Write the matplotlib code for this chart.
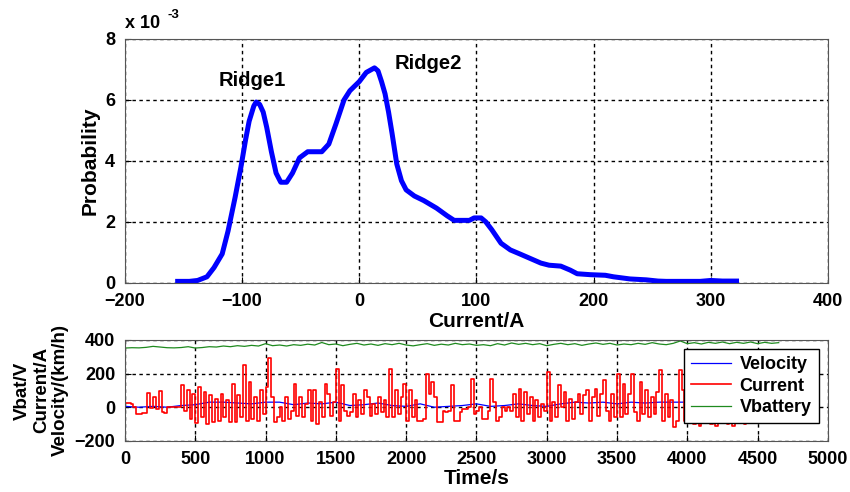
import matplotlib
matplotlib.use('Agg')
import matplotlib.pyplot as plt
import numpy as np

plt.rcParams['font.family'] = ['Liberation Sans', 'DejaVu Sans']
plt.rcParams['font.weight'] = 'bold'

# Distribution du courant (probabilité en 1e-3)
current_a = [-155, -145, -138, -130, -124, -117, -112, -106, -101, -97,
             -94, -90, -88, -85, -82, -79, -75, -71, -67, -62,
             -57, -51, -44, -38, -32, -26, -20, -13, -8, 0,
             6, 13, 16, 19, 22, 25, 28, 32, 36, 40,
             47, 55, 66, 75, 81, 90, 94, 98, 104, 108,
             113, 121, 129, 137, 146, 155, 162, 172, 180, 186,
             197, 210, 217, 231, 245, 255, 262, 291, 300, 310, 322]
prob_e3 = [0.05, 0.05, 0.08, 0.2, 0.5, 0.95, 1.7, 2.8, 3.8, 4.7,
           5.3, 5.8, 5.93, 5.85, 5.6, 5.1, 4.3, 3.6, 3.3, 3.3,
           3.6, 4.1, 4.3, 4.3, 4.3, 4.55, 5.2, 6.0, 6.3, 6.6,
           6.9, 7.05, 6.95, 6.6, 6.2, 5.6, 4.9, 3.9, 3.35, 3.05,
           2.85, 2.7, 2.45, 2.2, 2.05, 2.05, 2.05, 2.13, 2.13, 2.0,
           1.75, 1.3, 1.08, 0.95, 0.8, 0.65, 0.58, 0.55, 0.42, 0.3,
           0.27, 0.25, 0.2, 0.13, 0.1, 0.06, 0.05, 0.05, 0.08, 0.06, 0.06]

# Courant mesuré, un point toutes les 20 s
current_t = np.arange(0, 4680, 20)
current = [25, 25, 20, 0, -40, -40, -35, -35, 85, -5,
           60, -10, 95, -30, -35, 0, 0, 0, 0, 0,
           135, -20, 100, -70, 80, -95, 120, -60, 90, -100,
           70, -90, 50, -80, 80, -60, 40, -90, 140, -90,
           70, -60, 250, -80, 150, -70, 60, -80, 100, -40,
           120, 295, 60, -90, -60, 0, -80, 60, -70, -20,
           140, -50, 60, -60, 20, 100, -80, 100, -100, 30,
           -60, 140, 80, -50, 30, 230, -80, 130, -20, -50,
           -30, 80, -60, 40, -40, 100, 60, -50, 20, -40,
           60, -30, 40, -60, 230, -60, 100, -40, 60, 140,
           -80, 100, -60, 40, -80, -80, -70, 200, 80, 150,
           60, -90, -90, -25, -30, -20, 130, -80, -80, -30,
           -10, -10, 0, 170, -40, -20, 0, -70, -70, -20,
           170, 30, -80, -60, 0, -20, 0, -20, 80, -60,
           110, -80, 90, -40, 60, -80, 40, -60, 20, -20,
           210, -80, 30, -60, 130, 0, 90, -80, 50, -70,
           30, 80, -40, 70, 100, -80, 60, 110, -50, 80,
           160, -20, -80, 80, -60, 200, -60, 140, -40, 80,
           200, -30, -80, 150, -40, 100, -60, 60, -40, 90,
           220, -80, 80, -60, 40, -120, -80, 220, 100, -80,
           130, -50, -100, -20, -110, -40, -90, -30, -100, -50,
           -110, -40, -90, -30, -100, -60, -110, -40, -90, -50,
           -100, -60, -40, -20, -70, -30, -70, -50, -80, -60,
           -20, -70, -50, -70]

# Vitesse, un point toutes les 100 s
velocity_t = np.arange(0, 4700, 100)
velocity = [5, 0, 5, 0, 10, 15, 30, 30, 25, 20,
            30, 30, 15, 25, 20, 30, 10, 15, 25, 10,
            5, 20, 0, 5, 10, 20, 5, 10, 20, 10,
            5, 20, 30, 25, 30, 20, 30, 25, 30, 30,
            30, 25, 20, 15, 20, 10, 0]

# Tension batterie, un point toutes les 50 s
vbat_t = np.arange(0, 4700, 50)
vbat = [352, 354, 353, 356, 362, 358, 354, 353, 355, 360,
        352, 355, 360, 358, 364, 360, 366, 362, 368, 364,
        378, 366, 370, 364, 372, 368, 375, 370, 385, 372,
        376, 366, 374, 380, 370, 376, 368, 378, 372, 380,
        370, 365, 372, 378, 368, 375, 370, 380, 372, 376,
        368, 372, 366, 378, 370, 382, 374, 380, 372, 378,
        366, 374, 380, 372, 378, 368, 376, 382, 374, 380,
        370, 376, 372, 380, 374, 384, 376, 372, 380, 394,
        378, 384, 376, 386, 380, 388, 378, 386, 380, 388,
        378, 386, 380, 384]

fig = plt.figure(figsize=(8.5, 4.92), dpi=100)
ax1 = fig.add_axes([0.147, 0.425, 0.827, 0.496])
ax2 = fig.add_axes([0.147, 0.104, 0.827, 0.205])

for ax in (ax1, ax2):
    ax.grid(True, color='black', linestyle=(0, (2.5, 2.5)), linewidth=1.0)
    ax.tick_params(direction='in', labelsize=13, length=4, pad=7)
    for s in ax.spines.values():
        s.set_color('#555555')

# Graphe du haut : densité
ax1.plot(current_a, prob_e3, color='blue', linewidth=3.6)
ax1.set_xlim(-200, 400)
ax1.set_ylim(0, 8)
ax1.set_xticks(range(-200, 401, 100))
ax1.set_yticks(range(0, 9, 2))
ax1.set_xlabel('Current/A', fontsize=15, fontweight='bold', labelpad=2)
ax1.set_ylabel('Probability', fontsize=15, fontweight='bold', labelpad=4)
ax1.text(-91, 6.65, 'Ridge1', fontsize=14.5, fontweight='bold', ha='center', va='center')
ax1.text(59, 7.18, 'Ridge2', fontsize=14.5, fontweight='bold', ha='center', va='center')
ax1.text(0.0, 1.03, 'x 10', transform=ax1.transAxes, fontsize=13, fontweight='bold',
         ha='left', va='bottom')
ax1.text(0.061, 1.075, '-3', transform=ax1.transAxes, fontsize=9.5, fontweight='bold',
         ha='left', va='bottom')

# Graphe du bas : séries temporelles
ax2.plot(velocity_t, velocity, color='blue', linewidth=0.9, label='Velocity')
ax2.plot(current_t, current, color='red', linewidth=1.2, drawstyle='steps-post', label='Current')
ax2.plot(vbat_t, vbat, color='#1f8a1f', linewidth=0.9, label='Vbattery')
ax2.set_xlim(0, 5000)
ax2.set_ylim(-200, 400)
ax2.set_xticks(range(0, 5001, 500))
ax2.set_yticks(range(-200, 401, 200))
ax2.set_xlabel('Time/s', fontsize=15, fontweight='bold', labelpad=1)
ax2.set_ylabel('Vbat/V\nCurrent/A\nVelocity/(km/h)', fontsize=13.5, fontweight='bold',
               labelpad=4, linespacing=1.15)
leg = ax2.legend(loc='upper right', frameon=True, fancybox=False,
                 borderaxespad=0.5, handlelength=2.2, handletextpad=0.5,
                 labelspacing=0.25, borderpad=0.4, prop={'weight': 'bold', 'size': 13})
leg.get_frame().set_edgecolor('black')
leg.get_frame().set_linewidth(1.0)
leg.get_frame().set_alpha(1.0)

fig.savefig('out.png', dpi=100)
